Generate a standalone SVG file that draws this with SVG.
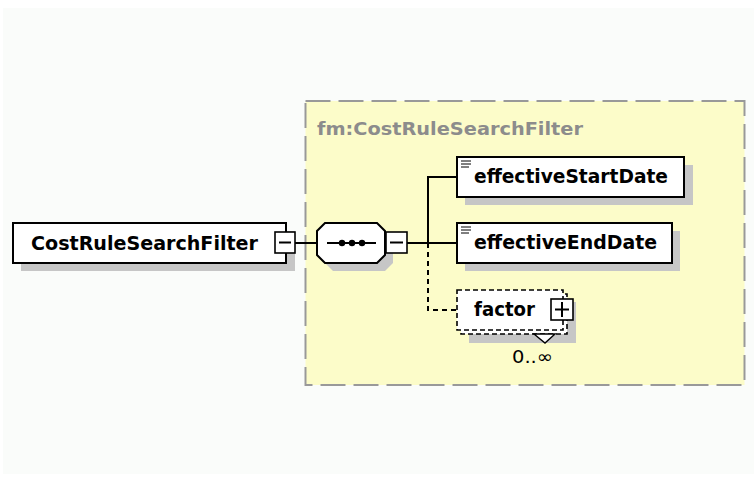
<svg xmlns="http://www.w3.org/2000/svg" width="754" height="480" viewBox="0 0 754 480">
<style>
.bg{fill:#fafcfa}
.shadow{fill:#c6c6c6}
.box{fill:#ffffff;stroke:#000;stroke-width:2}
.dbox{fill:#ffffff;stroke:#000;stroke-width:1.6;stroke-dasharray:5,3}
.btn{fill:#ffffff;stroke:#000;stroke-width:1.6}
.name{font-family:"DejaVu Sans",Verdana,sans-serif;font-weight:bold;font-size:20px;fill:#000}
.title{font-family:"DejaVu Sans",Verdana,sans-serif;font-weight:bold;font-size:18.5px;fill:#8c8c8c}
.occ{font-family:"DejaVu Sans",Verdana,sans-serif;font-size:18px;fill:#000}
.line{stroke:#000;stroke-width:2;fill:none}
.dline{stroke:#000;stroke-width:2;fill:none;stroke-dasharray:5,4}
.icon{stroke:#000;stroke-width:1}
</style>
<rect x="0" y="0" width="754" height="480" fill="#ffffff"/>
<rect class="bg" x="3" y="8" width="751" height="466"/>

<g id="type-group">
<rect x="305.5" y="101" width="439" height="284" fill="#fcfcc9" stroke="#999999" stroke-width="2" stroke-dasharray="25,8"/>
<text class="title" x="317" y="135" textLength="266" lengthAdjust="spacingAndGlyphs">fm:CostRuleSearchFilter</text>
</g>

<g id="connectors">
<line class="line" x1="295" y1="243" x2="317" y2="243"/>
<line class="line" x1="407" y1="243" x2="457" y2="243"/>
<polyline class="line" points="428,243 428,177 457,177"/>
<polyline class="dline" points="428,243 428,310 457,310"/>
</g>

<g id="root-element">
<rect class="shadow" x="21" y="231" width="274" height="40"/>
<rect class="box" x="13" y="223" width="273" height="40"/>
<text class="name" x="31" y="250" textLength="227" lengthAdjust="spacingAndGlyphs">CostRuleSearchFilter</text>
<rect class="btn" x="275" y="232" width="20" height="21"/>
<line class="line" x1="279" y1="242.5" x2="291" y2="242.5" stroke-width="1.6"/>
</g>

<g id="sequence">
<polygon class="shadow" points="333,231 385,231 393,239 393,263 385,271 333,271 325,263 325,239"/>
<polygon class="box" points="325,223 377,223 385,231 385,255 377,263 325,263 317,255 317,231"/>
<line class="line" x1="327" y1="243" x2="376" y2="243"/>
<circle cx="342" cy="243" r="3.2" fill="#000"/>
<circle cx="352" cy="243" r="3.2" fill="#000"/>
<circle cx="362" cy="243" r="3.2" fill="#000"/>
<rect class="btn" x="386" y="232" width="21" height="21"/>
<line class="line" x1="390" y1="242.5" x2="403" y2="242.5" stroke-width="1.6"/>
</g>

<g id="effectiveStartDate">
<rect class="shadow" x="465" y="165" width="228" height="40"/>
<rect class="box" x="457" y="157" width="227" height="40"/>
<line class="icon" x1="461" y1="161" x2="471" y2="161"/>
<line class="icon" x1="461" y1="164" x2="471" y2="164"/>
<line class="icon" x1="461" y1="167" x2="469" y2="167"/>
<text class="name" x="474" y="183" textLength="194" lengthAdjust="spacingAndGlyphs">effectiveStartDate</text>
</g>

<g id="effectiveEndDate">
<rect class="shadow" x="465" y="231" width="215" height="40"/>
<rect class="box" x="457" y="223" width="215" height="40"/>
<line class="icon" x1="461" y1="227" x2="471" y2="227"/>
<line class="icon" x1="461" y1="230" x2="471" y2="230"/>
<line class="icon" x1="461" y1="233" x2="469" y2="233"/>
<text class="name" x="474" y="249" textLength="183" lengthAdjust="spacingAndGlyphs">effectiveEndDate</text>
</g>

<g id="factor">
<rect class="shadow" x="469" y="302" width="107" height="41"/>
<rect class="dbox" x="461" y="294" width="106" height="40"/>
<rect class="dbox" x="457" y="290" width="106" height="40"/>
<polygon points="534,334 545,343 555,334" fill="#ffffff" stroke="#000" stroke-width="1.4"/>
<text class="name" x="474" y="316" textLength="61" lengthAdjust="spacingAndGlyphs">factor</text>
<rect class="btn" x="551" y="299" width="22" height="21"/>
<line class="line" x1="555" y1="309.5" x2="569" y2="309.5" stroke-width="1.6"/>
<line class="line" x1="562" y1="302" x2="562" y2="317" stroke-width="1.6"/>
<text class="occ" x="512" y="363" textLength="41" lengthAdjust="spacingAndGlyphs">0..∞</text>
</g>
</svg>
